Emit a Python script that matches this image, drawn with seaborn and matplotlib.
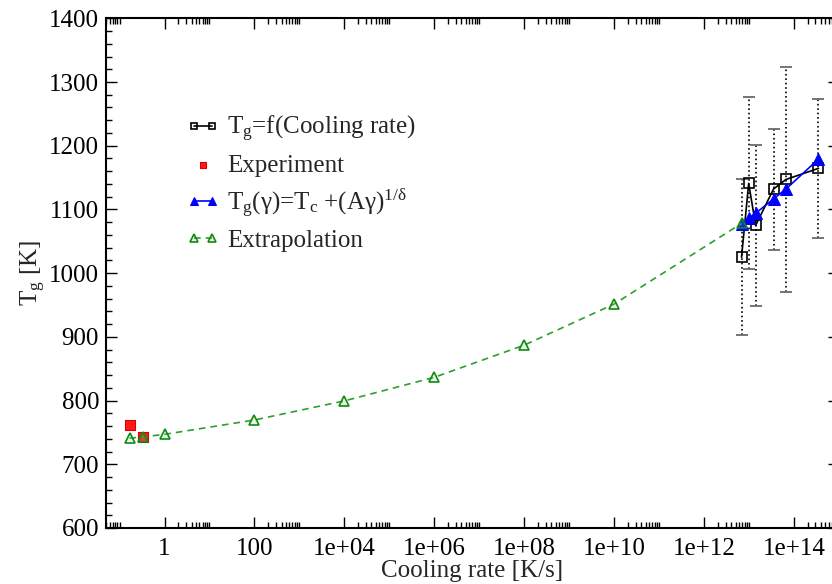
import numpy as np
import matplotlib

matplotlib.use('Agg')
import matplotlib.pyplot as plt
import seaborn as sns
from matplotlib.ticker import FixedLocator, FixedFormatter, MultipleLocator, NullFormatter

# ==========================================
# data
# ==========================================
ext_rate = [1 / 6, 1 / 3, 1, 1e2, 1e4, 1e6, 1e8, 1e10, 6.8e12]
ext_tg = [741, 743, 747, 769.5, 799.5, 836.5, 887, 951.5, 1078]

exp_rate = [1 / 6, 1 / 3]
exp_tg = [762, 743.5]

sim_rate = [6.8e12, 9.8e12, 1.4e13, 3.5e13, 6.6e13, 3.5e14]
sim_tg = [1025, 1141, 1075, 1132, 1147, 1164.5]
sim_err = [122, 135, 126, 95, 177, 109]

fit_rate = [6.8e12, 9.8e12, 1.4e13, 3.5e13, 6.6e13, 3.5e14]
fit_tg = [1077, 1086, 1094, 1116.5, 1132, 1179]

x_major = [1, 1e2, 1e4, 1e6, 1e8, 1e10, 1e12, 1e14]
x_labels = ['1', '100', '1e+04', '1e+06', '1e+08', '1e+10', '1e+12', '1e+14']

# ==========================================
# style
# ==========================================
sns.set_theme(style="ticks")
plt.rcParams['font.family'] = ['Liberation Serif', 'DejaVu Serif']
plt.rcParams['mathtext.fontset'] = 'custom'
plt.rcParams['mathtext.rm'] = 'Liberation Serif'
plt.rcParams['mathtext.it'] = 'Liberation Serif:italic'
plt.rcParams['font.size'] = 18

fig = plt.figure(figsize=(8.32, 5.84), dpi=100)
ax = fig.add_axes([106 / 832, 56 / 584, 733 / 832, 509.7 / 584])
ax.set_xscale('log')

# error bars of the simulation points
eb = ax.errorbar(sim_rate, sim_tg, yerr=sim_err, fmt='none', ecolor='black',
                 elinewidth=1.2, capsize=4.5, capthick=1.3, zorder=2)
for bar in eb[2]:
    bar.set_linestyle(':')
for cap in eb[1]:
    cap.set_markeredgecolor('#6a6a6a')

sns.lineplot(x=sim_rate, y=sim_tg, ax=ax, sort=False, color='black', lw=1.2,
             marker='s', markersize=7, markerfacecolor='none', markeredgecolor='black',
             markeredgewidth=1.2, label=r'T$_{\rm g}$=f(Cooling rate)', zorder=3)

sns.scatterplot(x=exp_rate, y=exp_tg, ax=ax, marker='s', s=42, color='#ff1a1a',
                edgecolor='#dd0000', linewidth=0.8, label='Experiment', zorder=4)

sns.lineplot(x=fit_rate, y=fit_tg, ax=ax, sort=False, color='#0000ff', lw=1.2,
             marker='^', markersize=8, markerfacecolor='#0000ff', markeredgecolor='#0000ff',
             label='T$_{\\rm g}$(γ)=T$_{\\rm c}$ +(Aγ)$^{\\rm 1/δ}$', zorder=4)

# light, see-through fill so the experiment square shows under the triangle
sns.lineplot(x=ext_rate, y=ext_tg, ax=ax, sort=False, color='#2ca02c', lw=1.2,
             linestyle=(0, (4, 3)), marker='^', markersize=7.5,
             markerfacecolor=(0.55, 0.8, 0.55, 0.2),
             markeredgecolor='#108a10', markeredgewidth=1.2, label='Extrapolation', zorder=5)

# ==========================================
# axes
# ==========================================
ax.set_xlim(0.05, 1e15)
ax.set_ylim(600, 1400)

x_minor = [m * k for m in [1e-2] + x_major for k in range(2, 11)]
ax.xaxis.set_major_locator(FixedLocator(x_major))
ax.xaxis.set_major_formatter(FixedFormatter(x_labels))
ax.xaxis.set_minor_locator(FixedLocator(x_minor))
ax.xaxis.set_minor_formatter(NullFormatter())
ax.yaxis.set_major_locator(MultipleLocator(100))
ax.yaxis.set_minor_locator(MultipleLocator(20))

ax.tick_params(which='both', direction='in', top=True, right=True, colors='black', labelsize=18)
ax.tick_params(which='major', length=8, width=1.0)
ax.tick_params(which='minor', length=4, width=1.0)
ax.tick_params(axis='x', pad=7)
ax.tick_params(axis='y', pad=5)
for sp in ax.spines.values():
    sp.set_linewidth(1.5)
    sp.set_color('black')

ax.set_xlabel('Cooling rate [K/s]', fontsize=18, labelpad=0)
ax.set_ylabel(r'T$_{\rm g}$ [K]', fontsize=18, labelpad=1)

leg = ax.legend(loc='upper left', bbox_to_anchor=(186 / 832, 1 - 114 / 584),
                bbox_transform=fig.transFigure, frameon=False, fontsize=18,
                numpoints=2, scatterpoints=1, markerscale=0.7, handlelength=1.35,
                handletextpad=0.3, borderpad=0, borderaxespad=0, labelspacing=0.4)

plt.savefig('out.png', dpi=100)
plt.close()
